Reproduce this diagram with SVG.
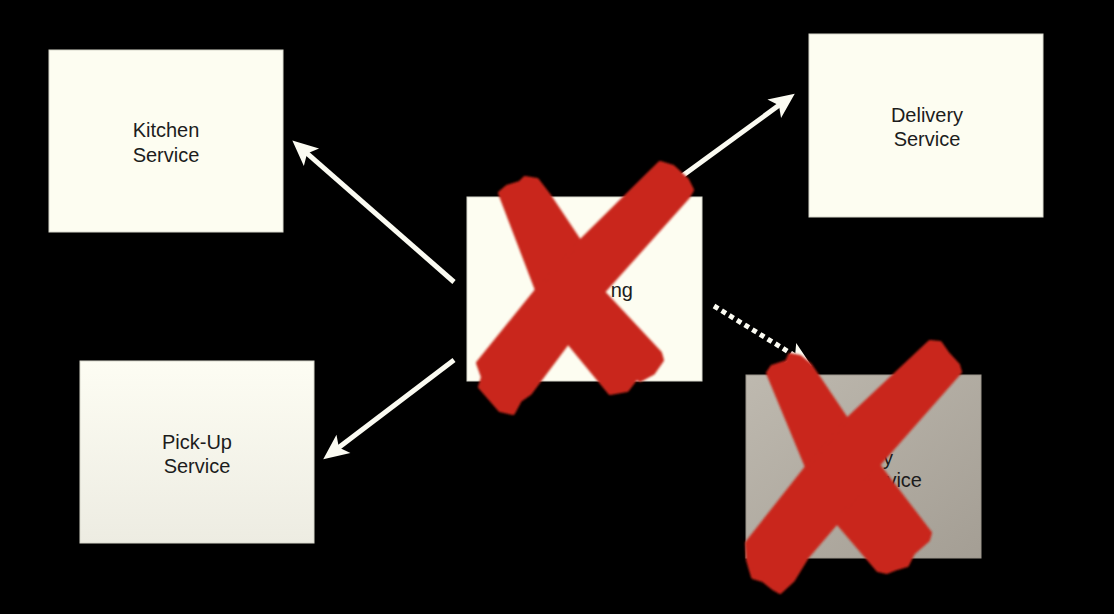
<svg xmlns="http://www.w3.org/2000/svg" width="1114" height="614" viewBox="0 0 1114 614">
  <defs>
    <style>
      .box { fill: #fdfdf1; stroke: #d8d8cc; stroke-width: 1; }
      .lbl { font-family: "Liberation Sans", Arial, sans-serif; font-size: 20px; fill: #1c1c1c; }
      .mid { text-anchor: middle; }
      .end { text-anchor: end; }
      .conn { stroke: #fbfbf2; stroke-width: 5; fill: none; }
      .dot { stroke-dasharray: 5 4; }
      .cross { fill: #c9281b; stroke: #c9281b; stroke-width: 4; stroke-linejoin: round; }
    </style>
    <linearGradient id="pickGrad" x1="0" y1="0" x2="0" y2="1">
      <stop offset="0" stop-color="#fdfdf3"/>
      <stop offset="1" stop-color="#edece2"/>
    </linearGradient>
    <linearGradient id="greyGrad" x1="0" y1="0" x2="1" y2="1">
      <stop offset="0" stop-color="#beb9af"/>
      <stop offset="1" stop-color="#a49e94"/>
    </linearGradient>
    <marker id="arrow" markerUnits="userSpaceOnUse" markerWidth="30" markerHeight="30" viewBox="-10 -12 26 24" refX="0" refY="0" orient="auto">
      <path d="M14,0 L-8,-10 L-3,0 L-8,10 Z" fill="#fbfbf2"/>
    </marker>
    <filter id="soft" x="-10%" y="-10%" width="120%" height="120%">
      <feGaussianBlur stdDeviation="0.9"/>
    </filter>
  </defs>

  <rect width="1114" height="614" fill="#000"/>

  <g id="kitchen">
    <rect class="box" x="49" y="50" width="234" height="182"/>
    <text class="lbl mid" x="166" y="137">Kitchen</text>
    <text class="lbl mid" x="166" y="162">Service</text>
  </g>

  <g id="delivery">
    <rect class="box" x="809" y="34" width="234" height="183"/>
    <text class="lbl mid" x="927" y="122">Delivery</text>
    <text class="lbl mid" x="927" y="146">Service</text>
  </g>

  <g id="pickup">
    <rect class="box" x="80" y="361" width="234" height="182" style="fill:url(#pickGrad)"/>
    <text class="lbl mid" x="197" y="449">Pick-Up</text>
    <text class="lbl mid" x="197" y="473">Service</text>
  </g>

  <g id="center">
    <rect class="box" x="467" y="197" width="235" height="184"/>
    <text class="lbl end" x="633" y="297">ng</text>
  </g>

  <g id="crossed">
    <rect x="746" y="375" width="235" height="183" style="fill:url(#greyGrad)" stroke="#9c968c" stroke-width="1"/>
    <text class="lbl end" x="893" y="465">y</text>
    <text class="lbl end" x="922" y="487">vice</text>
  </g>

  <g id="connectors">
    <line class="conn" x1="454" y1="282" x2="304.5" y2="151.2" marker-end="url(#arrow)"/>
    <line class="conn" x1="678" y1="179" x2="781.7" y2="103.3" marker-end="url(#arrow)"/>
    <line class="conn" x1="454" y1="360" x2="336.1" y2="449.5" marker-end="url(#arrow)"/>
    <line class="conn dot" x1="714" y1="306" x2="798" y2="357.7" marker-end="url(#arrow)"/>
  </g>

  <g id="cross-center" filter="url(#soft)">
    <polygon class="cross" points="500,193 507,187 520,183 525,178 537,180 550,197 580,242 603,292 660,353 662,360 653,373 640,380 637,377 627,390 610,393 568,342 537,290"/>
    <polygon class="cross" points="660,163 673,167 687,180 692,190 688,197 603,292 568,342 530,393 520,400 513,413 500,410 480,387 483,377 478,363 537,290 580,242"/>
  </g>

  <g id="cross-right" filter="url(#soft)">
    <polygon class="cross" points="768,373 772,367 787,362 790,355 800,357 810,365 847,420 878,465 930,533 928,540 913,553 907,565 897,568 887,572 878,570 837,522 807,467"/>
    <polygon class="cross" points="930,342 940,343 947,353 958,365 960,372 878,465 837,522 807,557 793,580 780,592 773,588 763,580 753,577 748,560 747,543 807,467 847,420"/>
  </g>
</svg>
